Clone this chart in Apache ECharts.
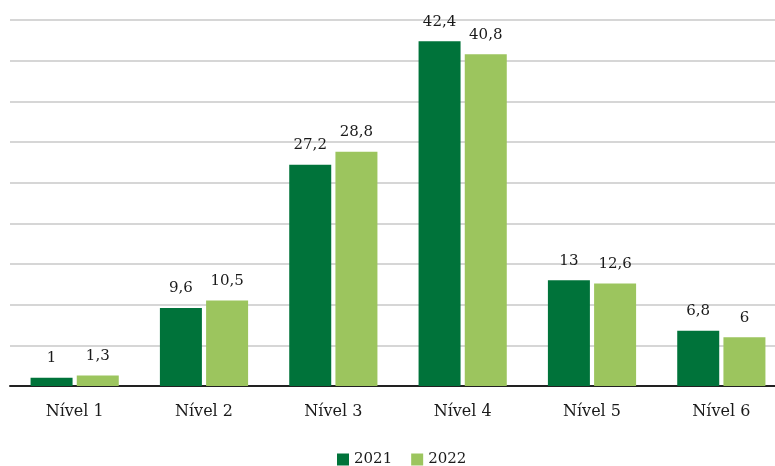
<!DOCTYPE html>
<html>
<head>
<meta charset="utf-8">
<script src="https://cdn.jsdelivr.net/npm/echarts@6/dist/echarts.min.js"></script>
<style>html,body{margin:0;padding:0;background:#fff;overflow:hidden;width:775px;height:466px}#c{width:787px;height:466px}</style>
</head>
<body>
<div id="c"></div>
<script>
const categories = ['Nível 1','Nível 2','Nível 3','Nível 4','Nível 5','Nível 6'];
const values2021 = [1, 9.6, 27.2, 42.4, 13, 6.8];
const values2022 = [1.3, 10.5, 28.8, 40.8, 12.6, 6];
const seriesNames = ['2021','2022'];

const FONT = 'DejaVu Serif';
const chart = echarts.init(document.getElementById('c'), null, {renderer:'canvas'});
const fmt = p => String(p.value).replace('.', ',');
const lbl = {show:true, position:'top', distance:12, formatter:fmt, fontFamily:FONT, fontSize:15, color:'#1a1a1a'};
chart.setOption({
  animation:false,
  grid:{left:10, right:1, top:20, bottom:80, containLabel:false},
  legend:{
    data:seriesNames, top:447, left:332,
    itemWidth:12, itemHeight:12, itemGap:19, icon:'rect',
    textStyle:{fontFamily:FONT, fontSize:15, color:'#1a1a1a'}
  },
  xAxis:{
    type:'category', data:categories,
    axisLine:{lineStyle:{color:'#222', width:2}},
    axisTick:{show:false},
    axisLabel:{fontFamily:FONT, fontSize:16, color:'#1a1a1a', margin:18}
  },
  yAxis:{
    type:'value', min:0, max:45, interval:5,
    axisLabel:{show:false}, axisLine:{show:false}, axisTick:{show:false},
    splitLine:{lineStyle:{color:'#c8c8c8', width:1.5}}
  },
  series:[
    {name:seriesNames[0], type:'bar', data:values2021, barWidth:42, barGap:'10%',
     itemStyle:{color:'#00733a'}, label:lbl},
    {name:seriesNames[1], type:'bar', data:values2022, barWidth:42,
     itemStyle:{color:'#9cc55e'}, label:lbl}
  ]
});
</script>
</body>
</html>
